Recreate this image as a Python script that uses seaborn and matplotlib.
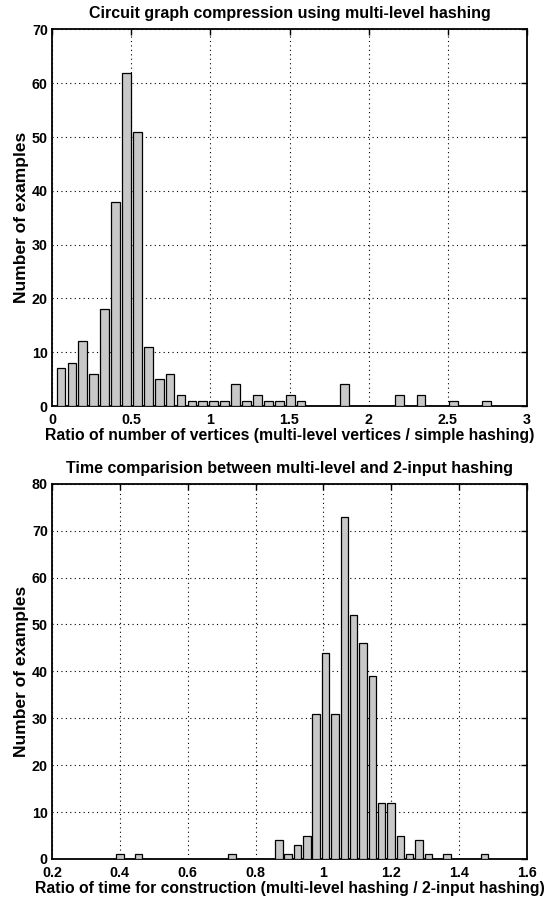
import numpy as np
import pandas as pd
import matplotlib
matplotlib.use("Agg")
import matplotlib.pyplot as plt
import seaborn as sns

# ---- data ----
# Top: MATLAB-style hist with 40 bins between lo and hi
vert_lo, vert_hi, vert_nbins = 0.0225, 2.779, 40
vert_counts = [7, 8, 12, 6, 18, 38, 62, 51, 11, 5,
               6, 2, 1, 1, 1, 1, 4, 1, 2, 1,
               1, 2, 1, 0, 0, 0, 4, 0, 0, 0,
               0, 2, 0, 2, 0, 0, 1, 0, 0, 1]

# Bottom
time_lo, time_hi, time_nbins = 0.3862, 1.4887, 40
time_counts = [1, 0, 1, 0, 0, 0, 0, 0, 0, 0,
               0, 0, 1, 0, 0, 0, 0, 4, 1, 3,
               5, 31, 44, 31, 73, 52, 46, 39, 12, 12,
               5, 1, 4, 1, 0, 1, 0, 0, 0, 1]

top_title = "Circuit graph compression using multi-level hashing"
top_xlabel = "Ratio of number of vertices (multi-level vertices / simple hashing)"
bot_title = "Time comparision between multi-level and 2-input hashing"
bot_xlabel = "Ratio of time for construction (multi-level hashing / 2-input hashing)"
ylabel = "Number of examples"

top_xticks = [0, 0.5, 1, 1.5, 2, 2.5, 3]
top_xticklabels = ["0", "0.5", "1", "1.5", "2", "2.5", "3"]
top_yticks = [0, 10, 20, 30, 40, 50, 60, 70]
bot_xticks = [0.2, 0.4, 0.6, 0.8, 1.0, 1.2, 1.4, 1.6]
bot_xticklabels = ["0.2", "0.4", "0.6", "0.8", "1", "1.2", "1.4", "1.6"]
bot_yticks = [0, 10, 20, 30, 40, 50, 60, 70, 80]

sns.set_theme(style="white")
plt.rcParams['font.family'] = ['Liberation Sans', 'DejaVu Sans']
plt.rcParams['font.weight'] = 'bold'
plt.rcParams['text.color'] = 'black'
plt.rcParams['axes.labelcolor'] = 'black'

fig = plt.figure(figsize=(5.45, 9.01), dpi=100)
ax1 = fig.add_axes([52/545, 1-406/901, (527-52)/545, (406-29.5)/901])
ax2 = fig.add_axes([52/545, 1-859/901, (527-52)/545, (859-483.7)/901])

def draw(ax, lo, hi, n, counts, xlim, ylim, xticks, xticklabels, yticks, title, xlabel):
    edges = [float(v) for v in np.linspace(lo, hi, n + 1)]
    centers = [(edges[i] + edges[i + 1]) / 2 for i in range(n)]
    df = pd.DataFrame({"x": centers, "count": counts})
    sns.histplot(data=df, x="x", weights="count", bins=edges, shrink=0.8,
                 color="#c8c8c8", edgecolor="black", linewidth=0.9, alpha=1,
                 ax=ax, zorder=3)
    ax.set_xlim(*xlim)
    ax.set_ylim(*ylim)
    ax.set_xticks(xticks)
    ax.set_xticklabels(xticklabels)
    ax.set_yticks(yticks)
    ax.grid(True, linestyle=(0, (1, 3)), color="black", linewidth=0.8, zorder=0)
    ax.set_axisbelow(True)
    ax.tick_params(direction="in", length=4, width=1, top=True, right=True,
                   labelsize=10.3, pad=3, colors="black", labelcolor="black")
    ax.tick_params(axis="x", pad=5)
    for lab in ax.get_xticklabels() + ax.get_yticklabels():
        lab.set_fontweight("bold")
    for s in ax.spines.values():
        s.set_visible(True)
        s.set_color("black")
        s.set_linewidth(1.3)
    ax.set_title(title, fontsize=11.5, fontweight="bold", pad=8, color="black")
    ax.set_xlabel(xlabel, fontsize=11.3, fontweight="bold", labelpad=1, color="black")
    ax.set_ylabel(ylabel, fontsize=12.5, fontweight="bold", labelpad=2, color="black")

draw(ax1, vert_lo, vert_hi, vert_nbins, vert_counts, (0, 3), (0, 70),
     top_xticks, top_xticklabels, top_yticks, top_title, top_xlabel)
draw(ax2, time_lo, time_hi, time_nbins, time_counts, (0.2, 1.6), (0, 80),
     bot_xticks, bot_xticklabels, bot_yticks, bot_title, bot_xlabel)

fig.savefig("out.png", dpi=100)
